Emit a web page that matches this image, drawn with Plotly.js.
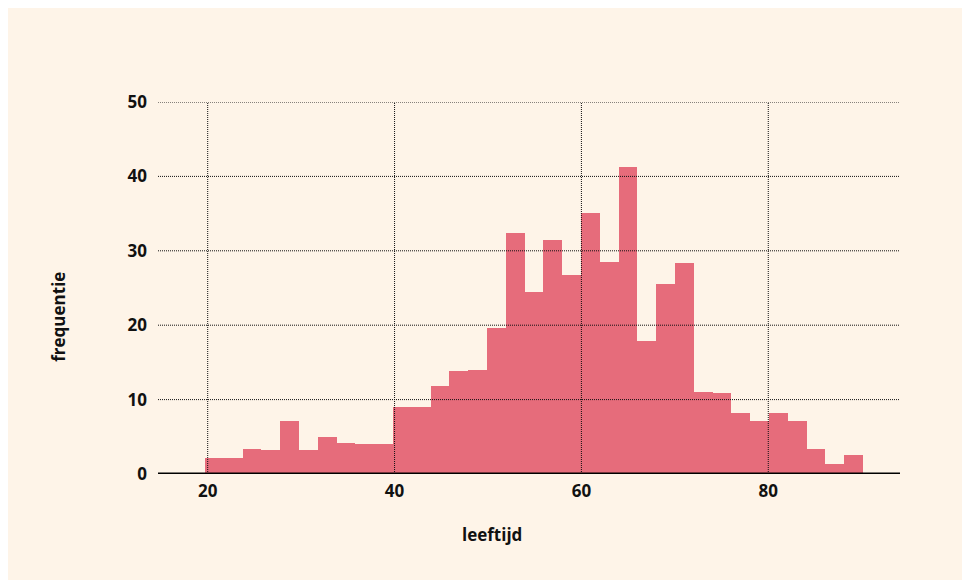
<!DOCTYPE html>
<html>
<head>
<meta charset="utf-8">
<script src="https://cdn.plot.ly/plotly-3.0.1.min.js"></script>
<style>
  body { margin: 8px; background: #ffffff; overflow: hidden; }
  #chart { width: 970px; height: 580px; }
</style>
</head>
<body>
<div id="chart"></div>
<script>
// Histogram of age (leeftijd): bin edges and heights
const binStart = 19.71;
const binWidth = 2.012;
const frequencies = [
  2.2, 2.2, 3.3, 3.16, 7.19, 3.16, 5.04, 4.23, 4.1, 4.1,
  9.07, 9.07, 11.89, 13.9, 14.04, 19.68, 32.4, 24.5, 31.4, 26.7,
  35.1, 28.5, 41.2, 17.9, 25.6, 28.4, 11.08, 10.95, 8.26, 7.19,
  8.26, 7.19, 3.3, 1.28, 2.49
];
const xTicks = [20, 40, 60, 80];
const yTicks = [0, 10, 20, 30, 40, 50];
const xTitle = 'leeftijd';
const yTitle = 'frequentie';

const centres = frequencies.map((_, i) => binStart + binWidth * (i + 0.5));

const font = { family: 'Open Sans, Noto Sans, sans-serif', size: 17, color: '#111111', weight: 'bold' };

const trace = {
  type: 'bar',
  x: centres,
  y: frequencies,
  width: binWidth,
  marker: { color: '#e66c7b', line: { width: 0 } },
  hoverinfo: 'x+y'
};

const gridLine = { color: '#111111', width: 1, dash: '1px,1px' };
const shapes = [];
xTicks.forEach(v => shapes.push({
  type: 'line', xref: 'x', yref: 'paper', x0: v, x1: v, y0: 0, y1: 1,
  line: gridLine, layer: 'above'
}));
yTicks.filter(v => v !== 0).forEach(v => shapes.push({
  type: 'line', xref: 'paper', yref: 'y', x0: 0, x1: 1, y0: v, y1: v,
  line: gridLine, layer: 'above'
}));
shapes.push({
  type: 'line', xref: 'paper', yref: 'y', x0: 0, x1: 1, y0: 0, y1: 0,
  line: { color: '#000000', width: 3 }, layer: 'above'
});

const layout = {
  width: 970,
  height: 580,
  paper_bgcolor: '#fef4e8',
  plot_bgcolor: '#fef4e8',
  margin: { l: 150, r: 78, t: 94, b: 113.5 },
  showlegend: false,
  bargap: 0,
  font: font,
  xaxis: {
    range: [14.68, 94.1],
    tickvals: xTicks,
    ticktext: xTicks.map(String),
    showgrid: false,
    zeroline: false,
    showline: false,
    ticks: '',
    ticklabelstandoff: 5,
    tickfont: font
  },
  yaxis: {
    range: [0, 50],
    tickvals: yTicks,
    ticktext: yTicks.map(String),
    showgrid: false,
    zeroline: false,
    showline: false,
    ticks: '',
    ticklabelstandoff: 10,
    tickfont: font
  },
  annotations: [
    { text: xTitle, xref: 'paper', yref: 'paper', x: 0.4501, y: -0.1624,
      xanchor: 'center', yanchor: 'middle', showarrow: false, font: font },
    { text: yTitle, xref: 'paper', yref: 'paper', x: -0.1334, y: 0.4228,
      xanchor: 'center', yanchor: 'middle', showarrow: false, textangle: -90, font: font }
  ],
  shapes: shapes
};

Plotly.newPlot('chart', [trace], layout, { displayModeBar: false, staticPlot: true });
</script>
</body>
</html>
